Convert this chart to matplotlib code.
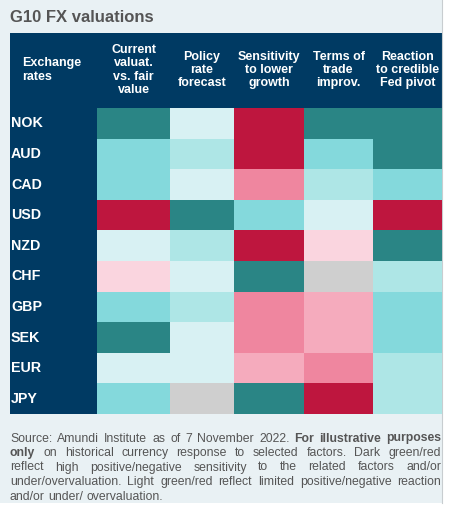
import matplotlib
matplotlib.use("Agg")
import matplotlib.pyplot as plt
import matplotlib.transforms as mtransforms
from matplotlib.colors import ListedColormap, BoundaryNorm
from matplotlib.patches import Rectangle
import numpy as np

plt.rcParams['font.family'] = ['Liberation Sans', 'DejaVu Sans']

title = "G10 FX valuations"
rows = ["NOK", "AUD", "CAD", "USD", "NZD", "CHF", "GBP", "SEK", "EUR", "JPY"]
columns = ["Current\nvaluat.\nvs. fair\nvalue", "Policy\nrate\nforecast",
           "Sensitivity\nto lower\ngrowth", "Terms of\ntrade\nimprov.",
           "Reaction\nto credible\nFed pivot"]
row_header = "Exchange\nrates"
# score: 4 dark green ... 1 very light green, 0 neutral, -1 very light red ... -4 dark red
scores = np.array([
    [4, 1, -4, 4, 4],    # NOK
    [3, 2, -4, 3, 4],    # AUD
    [3, 1, -3, 2, 3],    # CAD
    [-4, 4, 3, 1, -4],   # USD
    [1, 2, -4, -1, 4],   # NZD
    [-1, 1, 4, 0, 2],    # CHF
    [3, 2, -3, -2, 3],   # GBP
    [4, 1, -3, -2, 3],   # SEK
    [1, 1, -2, -3, 2],   # EUR
    [3, 0, 4, -4, 2],    # JPY
])
levels = [-4, -3, -2, -1, 0, 1, 2, 3, 4]
level_colors = ["#be163e", "#ef869f", "#f5abbd", "#fad5df", "#cfcfcf",
                "#d8f1f3", "#aee6e6", "#84d9dc", "#2a8585"]
footnote_lines = [
    [("Source: Amundi Institute as of 7 November 2022.", False), ("For illustrative purposes", True)],
    [("only", True), ("on historical currency response to selected factors. Dark green/red", False)],
    [("reflect high positive/negative sensitivity to the related factors and/or", False)],
    [("under/overvaluation. Light green/red reflect limited positive/negative reaction", False)],
    [("and/or under/ overvaluation.", False)],
]

NAVY = "#003a63"
BG = "#e9f1f4"
GRAY_TXT = "#555555"

fig = plt.figure(figsize=(4.5, 5.11), dpi=100)
fig.patch.set_facecolor("white")
bg = fig.add_axes([0, 0, 1, 1])
bg.set_xlim(0, 450)
bg.set_ylim(511, 0)
bg.axis("off")

# panel background
bg.add_patch(Rectangle((0, 0), 442, 503, facecolor=BG, edgecolor="none"))
bg.plot([442, 442], [0, 503], color="#c8cdd0", lw=0.8)
# navy block (header + row labels)
bg.add_patch(Rectangle((10, 33), 432, 381, facecolor=NAVY, edgecolor="none"))

bg.text(10, 18, title, fontsize=12, fontweight="bold", color=GRAY_TXT,
        va="center", ha="left")

# heatmap
x0, x1, y0, y1 = 97, 442, 108, 414
ax = fig.add_axes([x0 / 450, 1 - y1 / 511, (x1 - x0) / 450, (y1 - y0) / 511])
col_widths = [73, 64, 70, 69, 69]
xedges = np.concatenate([[0], np.cumsum(col_widths)])
yedges = np.arange(len(rows) + 1)
cmap = ListedColormap(level_colors)
bounds = np.arange(-4.5, 5.0, 1.0)
norm = BoundaryNorm(bounds, cmap.N)
ax.pcolormesh(xedges, yedges, scores, cmap=cmap, norm=norm, shading="flat")
ax.set_xlim(xedges[0], xedges[-1])
ax.set_ylim(len(rows), 0)
ax.axis("off")

tr_rows = mtransforms.blended_transform_factory(bg.transData, ax.transData)
for i, r in enumerate(rows):
    ax.text(11, i + 0.5, r, transform=tr_rows, color="white", fontsize=10.3,
            fontweight="bold", ha="left", va="center")

tr_cols = mtransforms.blended_transform_factory(ax.transData, bg.transData)
centers = (xedges[:-1] + xedges[1:]) / 2
for c, lab in zip(centers, columns):
    ax.text(c, 70, lab, transform=tr_cols, color="white", fontsize=9,
            fontweight="bold", ha="center", va="center", linespacing=1.15)
bg.text(22, 70, row_header, color="white", fontsize=9, fontweight="bold",
        ha="left", va="center", linespacing=1.15)

# justified footnote
fig.canvas.draw()
renderer = fig.canvas.get_renderer()
left, right = 10, 441
fs = 8.8
ys = [441.5, 456, 470.5, 485, 499.5]
meas = bg.text(0, 0, "a a", fontsize=fs)
w_sp = meas.get_window_extent(renderer).width
meas.set_text("aa")
w_sp -= meas.get_window_extent(renderer).width
meas.remove()
for li, (segs, y) in enumerate(zip(footnote_lines, ys)):
    words = []
    for s, b in segs:
        for w in s.split(" "):
            if w:
                words.append((w, b))
    texts = []
    widths = []
    for w, b in words:
        t = bg.text(0, y, w, fontsize=fs, fontweight="bold" if b else "normal",
                    color=GRAY_TXT, ha="left", va="baseline")
        bb = t.get_window_extent(renderer)
        texts.append(t)
        widths.append(bb.width)
    if li < len(footnote_lines) - 1 and len(words) > 1:
        gap = (right - left - sum(widths)) / (len(words) - 1)
    else:
        gap = w_sp
    x = left
    for t, w in zip(texts, widths):
        t.set_x(x)
        x += w + gap

fig.savefig("out.png", dpi=100, facecolor=fig.get_facecolor())
